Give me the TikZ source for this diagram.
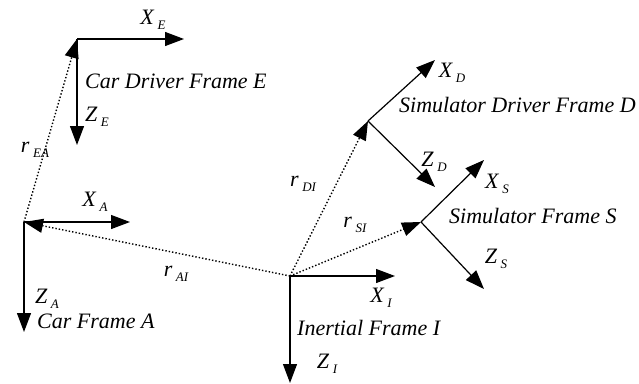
\documentclass[tikz,border=0pt]{standalone}
\usepackage{fontspec}
\setmainfont{Liberation Serif}
\usetikzlibrary{arrows.meta}
\tikzset{
  axis/.style={line width=1.2pt,-{Triangle[length=19pt,width=14pt]}},
  vec/.style={line width=1.4pt,dotted,-{Triangle[length=19pt,width=14pt]}},
  lbl/.style={font=\fontsize{22}{24}\selectfont\itshape,inner sep=0pt},
  frm/.style={font=\fontsize{22}{24}\selectfont\itshape,inner sep=0pt,anchor=west}
}
\newcommand{\ax}[2]{#1\,\raisebox{-5pt}{\fontsize{13}{14}\selectfont #2}}
\begin{document}
\begin{tikzpicture}[x=1pt,y=-1pt]
\useasboundingbox (0,0) rectangle (639,383);
% origins
\coordinate (E) at (77,39);
\coordinate (A) at (24,222);
\coordinate (I) at (290,276);
\coordinate (D) at (368,121);
\coordinate (S) at (421,222);
% axis ends
\coordinate (XE) at (184,39);
\coordinate (ZE) at (77,145);
\coordinate (XA) at (130,222);
\coordinate (ZA) at (24,332);
\coordinate (XI) at (395,276);
\coordinate (ZI) at (290,383);
\coordinate (XD) at (435,60);
\coordinate (ZD) at (435,187);
\coordinate (XS) at (484,160);
\coordinate (ZS) at (484,289);
% axes
\draw[axis] (E) -- (XE);
\draw[axis] (E) -- (ZE);
\draw[axis] (A) -- (XA);
\draw[axis] (A) -- (ZA);
\draw[axis] (I) -- (XI);
\draw[axis] (I) -- (ZI);
\draw[axis] (D) -- (XD);
\draw[axis] (D) -- (ZD);
\draw[axis] (S) -- (XS);
\draw[axis] (S) -- (ZS);
% position vectors
\draw[vec] (A) -- (E);
\draw[vec] (I) -- (A);
\draw[vec] (I) -- (D);
\draw[vec] (I) -- (S);
% axis labels
\node[lbl] (lXE) at (153,20) {\ax{X}{E}};
\node[lbl] (lZE) at (97,117) {\ax{Z}{E}};
\node[lbl] (lXA) at (95,202) {\ax{X}{A}};
\node[lbl] (lZA) at (47,299) {\ax{Z}{A}};
\node[lbl] (lXI) at (381,298) {\ax{X}{I}};
\node[lbl] (lZI) at (327,364) {\ax{Z}{I}};
\node[lbl] (lXD) at (452,73) {\ax{X}{D}};
\node[lbl] (lZD) at (434,162) {\ax{Z}{D}};
\node[lbl] (lXS) at (497,184) {\ax{X}{S}};
\node[lbl] (lZS) at (496,259) {\ax{Z}{S}};
% vector labels
\node[lbl] (rEA) at (35,150) {\ax{r}{EA}};
\node[lbl] (rAI) at (176,274) {\ax{r}{AI}};
\node[lbl] (rDI) at (303,184) {\ax{r}{DI}};
\node[lbl] (rSI) at (355,225) {\ax{r}{SI}};
% frame names
\node[frm] (fE) at (85,81) {Car Driver Frame E};
\node[frm] (fA) at (37,321) {Car Frame A};
\node[frm] (fI) at (297,328) {Inertial Frame I};
\node[frm] (fD) at (399,105) {Simulator Driver Frame D};
\node[frm] (fS) at (449,216) {Simulator Frame S};
\end{tikzpicture}
\end{document}
